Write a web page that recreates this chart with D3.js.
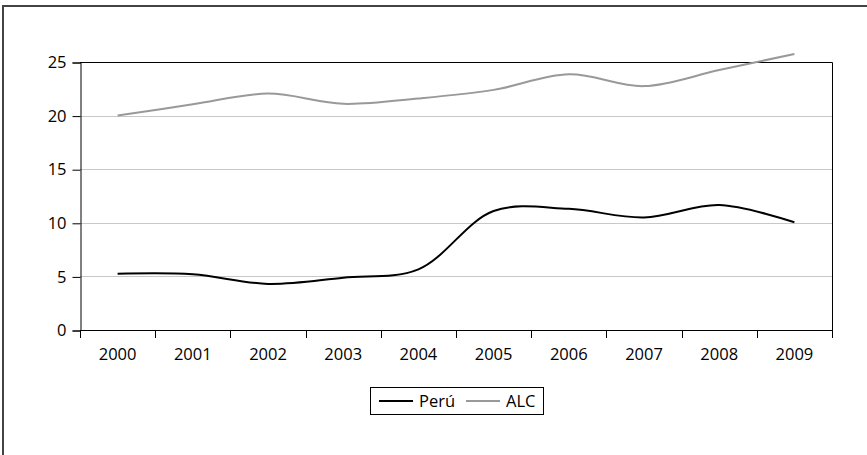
<!DOCTYPE html>
<html><head><meta charset="utf-8">
<script src="https://cdn.jsdelivr.net/npm/d3@7"></script>
<style>body{margin:0;background:#fff}svg{display:block}</style>
</head><body><svg id="c" width="867" height="455"></svg>
<script>
const years = ["2000","2001","2002","2003","2004","2005","2006","2007","2008","2009"];
const peru = [5.25, 5.2, 4.3, 4.88, 5.66, 11.1, 11.3, 10.5, 11.65, 10.05];
const alc = [20.0, 21.05, 22.05, 21.1, 21.6, 22.4, 23.85, 22.75, 24.25, 25.75];
const yTicks = [0, 5, 10, 15, 20, 25];
const seriesNames = ["Perú", "ALC"];
const seriesColors = ["#000000", "#999999"];

const FONT = "'Open Sans',sans-serif", FS = "16.5px";
const svg = d3.select("#c");
const L = 80, R = 832, T = 62, B = 330;
const x = d3.scaleBand().domain(years).range([L, R]);
const y = d3.scaleLinear().domain([0, 25]).range([B, T]);

// outer frame
svg.append("line").attr("x1",3).attr("x2",3).attr("y1",5).attr("y2",455).attr("stroke","#444").attr("stroke-width",2);
svg.append("line").attr("x1",3).attr("x2",867).attr("y1",6).attr("y2",6).attr("stroke","#444").attr("stroke-width",2);

// gridlines
svg.append("g").selectAll("line").data(yTicks.filter(d=>d>0 && d<25)).join("line")
  .attr("x1",L).attr("x2",R).attr("y1",d=>Math.round(y(d))+0.5).attr("y2",d=>Math.round(y(d))+0.5)
  .attr("stroke","#c8c8c8").attr("stroke-width",1.2);

// plot frame top/right
svg.append("path").attr("d",`M${L},${Math.round(T)+0.5}H${R+0.5}V${B}`).attr("fill","none").attr("stroke","#000");

// y axis
const ya = svg.append("g").attr("transform",`translate(${L+0.5},0.5)`)
  .call(d3.axisLeft(y).tickValues(yTicks).tickSize(8).tickPadding(6).tickFormat(d3.format("d")));
ya.attr("font-family",FONT).attr("font-size",FS);
ya.select(".domain").attr("stroke","#000");
ya.selectAll("text").attr("fill","#000");

// x axis
const xa = svg.append("g").attr("transform",`translate(0,${B+0.5})`)
  .call(d3.axisBottom(x).tickSize(0).tickPadding(18));
xa.attr("font-family",FONT).attr("font-size",FS);
xa.select(".domain").attr("d",`M${L},0H${R}`).attr("stroke","#000");
xa.selectAll("text").attr("fill","#000");
const edges = years.map(d=>x(d)).concat([R]);
svg.append("g").selectAll("line").data(edges).join("line")
  .attr("x1",d=>Math.round(d)+0.5).attr("x2",d=>Math.round(d)+0.5).attr("y1",B).attr("y2",B+8).attr("stroke","#000");

// lines
const line = d3.line().x((d,i)=>x(years[i])+x.bandwidth()/2).y(d=>y(d)).curve(d3.curveCatmullRom.alpha(0.5));
[peru, alc].forEach((s,k)=>{
  svg.append("path").datum(s).attr("d",line).attr("fill","none")
    .attr("stroke",seriesColors[k]).attr("stroke-width",2);
});

// legend
const lg = svg.append("g").attr("font-family",FONT).attr("font-size",FS);
lg.append("rect").attr("x",370.5).attr("y",387.5).attr("width",173).attr("height",27).attr("fill","#fff").attr("stroke","#000");
const lx = [379, 466];
seriesNames.forEach((n,k)=>{
  lg.append("line").attr("x1",lx[k]).attr("x2",lx[k]+34).attr("y1",401).attr("y2",401).attr("stroke",seriesColors[k]).attr("stroke-width",2);
  lg.append("text").attr("x",lx[k]+40).attr("y",407).text(n);
});
</script></body></html>
